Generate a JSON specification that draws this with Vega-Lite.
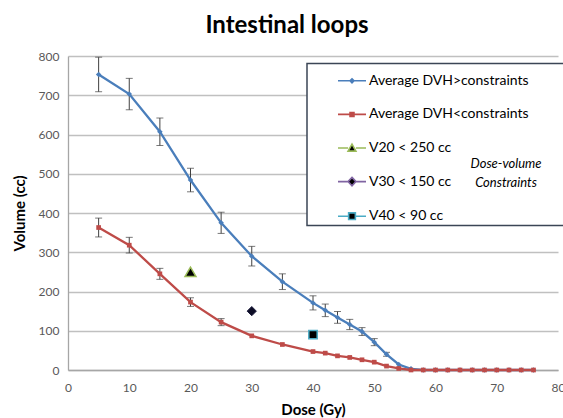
{
  "$schema": "https://vega.github.io/schema/vega-lite/v6.json",
  "width": 490,
  "height": 314,
  "autosize": {"type": "none"},
  "padding": {"left": 68, "top": 56, "right": 5, "bottom": 48},
  "background": "white",
  "config": {"font": "Lato", "view": {"stroke": null}},
  "title": {"text": "Intestinal loops", "fontSize": 24, "fontWeight": "bold", "font": "Lato", "color": "black", "anchor": "middle", "dx": -26, "baseline": "alphabetic", "offset": 21, "dy": 28},
  "datasets": {
    "dvh": [
      {"s": "Average DVH>constraints", "dose": 5, "v": 753, "err": 44},
      {"s": "Average DVH>constraints", "dose": 10, "v": 703, "err": 40},
      {"s": "Average DVH>constraints", "dose": 15, "v": 607, "err": 35},
      {"s": "Average DVH>constraints", "dose": 20, "v": 484, "err": 30},
      {"s": "Average DVH>constraints", "dose": 25, "v": 375, "err": 27},
      {"s": "Average DVH>constraints", "dose": 30, "v": 290, "err": 25},
      {"s": "Average DVH>constraints", "dose": 35, "v": 225, "err": 20},
      {"s": "Average DVH>constraints", "dose": 40, "v": 171, "err": 18},
      {"s": "Average DVH>constraints", "dose": 42, "v": 152, "err": 16},
      {"s": "Average DVH>constraints", "dose": 44, "v": 134, "err": 15},
      {"s": "Average DVH>constraints", "dose": 46, "v": 116, "err": 13},
      {"s": "Average DVH>constraints", "dose": 48, "v": 98, "err": 10},
      {"s": "Average DVH>constraints", "dose": 50, "v": 71, "err": 9},
      {"s": "Average DVH>constraints", "dose": 52, "v": 40, "err": 5},
      {"s": "Average DVH>constraints", "dose": 54, "v": 14, "err": null},
      {"s": "Average DVH>constraints", "dose": 56, "v": 3, "err": null},
      {"s": "Average DVH>constraints", "dose": 58, "v": 0, "err": null},
      {"s": "Average DVH>constraints", "dose": 60, "v": 0, "err": null},
      {"s": "Average DVH>constraints", "dose": 62, "v": 0, "err": null},
      {"s": "Average DVH>constraints", "dose": 64, "v": 0, "err": null},
      {"s": "Average DVH>constraints", "dose": 66, "v": 0, "err": null},
      {"s": "Average DVH>constraints", "dose": 68, "v": 0, "err": null},
      {"s": "Average DVH>constraints", "dose": 70, "v": 0, "err": null},
      {"s": "Average DVH>constraints", "dose": 72, "v": 0, "err": null},
      {"s": "Average DVH>constraints", "dose": 74, "v": 0, "err": null},
      {"s": "Average DVH>constraints", "dose": 76, "v": 0, "err": null},
      {"s": "Average DVH<constraints", "dose": 5, "v": 363, "err": 24},
      {"s": "Average DVH<constraints", "dose": 10, "v": 318, "err": 20},
      {"s": "Average DVH<constraints", "dose": 15, "v": 245, "err": 14},
      {"s": "Average DVH<constraints", "dose": 20, "v": 173, "err": 11},
      {"s": "Average DVH<constraints", "dose": 25, "v": 122, "err": 9},
      {"s": "Average DVH<constraints", "dose": 30, "v": 87, "err": null},
      {"s": "Average DVH<constraints", "dose": 35, "v": 65, "err": null},
      {"s": "Average DVH<constraints", "dose": 40, "v": 47, "err": null},
      {"s": "Average DVH<constraints", "dose": 42, "v": 43, "err": null},
      {"s": "Average DVH<constraints", "dose": 44, "v": 36, "err": null},
      {"s": "Average DVH<constraints", "dose": 46, "v": 32, "err": null},
      {"s": "Average DVH<constraints", "dose": 48, "v": 26, "err": null},
      {"s": "Average DVH<constraints", "dose": 50, "v": 20, "err": null},
      {"s": "Average DVH<constraints", "dose": 52, "v": 10, "err": null},
      {"s": "Average DVH<constraints", "dose": 54, "v": 4, "err": null},
      {"s": "Average DVH<constraints", "dose": 56, "v": 0, "err": null},
      {"s": "Average DVH<constraints", "dose": 58, "v": 0, "err": null},
      {"s": "Average DVH<constraints", "dose": 60, "v": 0, "err": null},
      {"s": "Average DVH<constraints", "dose": 62, "v": 0, "err": null},
      {"s": "Average DVH<constraints", "dose": 64, "v": 0, "err": null},
      {"s": "Average DVH<constraints", "dose": 66, "v": 0, "err": null},
      {"s": "Average DVH<constraints", "dose": 68, "v": 0, "err": null},
      {"s": "Average DVH<constraints", "dose": 70, "v": 0, "err": null},
      {"s": "Average DVH<constraints", "dose": 72, "v": 0, "err": null},
      {"s": "Average DVH<constraints", "dose": 74, "v": 0, "err": null},
      {"s": "Average DVH<constraints", "dose": 76, "v": 0, "err": null}
    ],
    "con": [
      {"c": "V20 < 250 cc", "dose": 20, "v": 250},
      {"c": "V30 < 150 cc", "dose": 30, "v": 150},
      {"c": "V40 < 90 cc", "dose": 40, "v": 90}
    ],
    "leg": [
      {"lg": "Average DVH>constraints"},
      {"lg": "Average DVH<constraints"},
      {"lg": "V20 < 250 cc"},
      {"lg": "V30 < 150 cc"},
      {"lg": "V40 < 90 cc"}
    ],
    "note": [
      {"n": "Dose-volume"},
      {"n": "Constraints"}
    ]
  },
  "encoding": {
    "x": {
      "field": "dose", "type": "quantitative",
      "scale": {"domain": [0, 80], "nice": false, "zero": false},
      "axis": {
        "title": "Dose (Gy)", "values": [0, 10, 20, 30, 40, 50, 60, 70, 80],
        "grid": false, "ticks": false, "domain": true, "domainColor": "#a6a6a6", "domainWidth": 1.3,
        "labelFont": "Lato", "labelFontSize": 12, "labelColor": "#595959", "labelPadding": 12, "labelFlush": false,
        "titleFont": "Lato", "titleFontSize": 15, "titleFontWeight": "bold", "titleColor": "black", "titlePadding": 9.5
      }
    },
    "y": {
      "field": "v", "type": "quantitative",
      "scale": {"domain": [0, 800], "nice": false},
      "axis": {
        "title": "Volume (cc)", "values": [0, 100, 200, 300, 400, 500, 600, 700, 800],
        "grid": true, "gridColor": "#c0c0c0", "gridWidth": 1.3,
        "ticks": false, "domain": true, "domainColor": "#a6a6a6", "domainWidth": 1.3,
        "labelFont": "Lato", "labelFontSize": 12, "labelColor": "#595959", "labelPadding": 9,
        "titleFont": "Lato", "titleFontSize": 15, "titleFontWeight": "bold", "titleColor": "black", "titlePadding": 11
      }
    }
  },
  "layer": [
    {
      "data": {"name": "dvh"},
      "transform": [{"filter": "isValid(datum.err) && datum.err > 0"}],
      "mark": {"type": "errorbar", "ticks": {"size": 7, "color": "#404040"}, "rule": {"color": "#404040"}, "thickness": 1},
      "encoding": {"yError": {"field": "err"}}
    },
    {
      "data": {"name": "dvh"},
      "mark": {"type": "line", "strokeWidth": 2.3},
      "encoding": {
        "color": {"field": "s", "type": "nominal", "scale": {"domain": ["Average DVH>constraints", "Average DVH<constraints"], "range": ["#4a7ebb", "#be4b48"]}, "legend": null},
        "detail": {"field": "s"}
      }
    },
    {
      "data": {"name": "dvh"},
      "transform": [{"filter": "datum.s == 'Average DVH>constraints'"}],
      "mark": {"type": "point", "shape": "diamond", "filled": true, "size": 30, "opacity": 1, "color": "#4a7ebb"},
      "encoding": {}
    },
    {
      "data": {"name": "dvh"},
      "transform": [{"filter": "datum.s == 'Average DVH<constraints'"}],
      "mark": {"type": "point", "shape": "square", "filled": true, "size": 22, "opacity": 1, "color": "#be4b48"},
      "encoding": {}
    },
    {
      "data": {"name": "con"},
      "transform": [{"filter": "datum.c == 'V20 < 250 cc'"}],
      "mark": {"type": "point", "shape": "triangle-up", "filled": true, "size": 120, "opacity": 1, "fill": "black", "stroke": "#9bbb59", "strokeWidth": 1.5},
      "encoding": {}
    },
    {
      "data": {"name": "con"},
      "transform": [{"filter": "datum.c == 'V30 < 150 cc'"}],
      "mark": {"type": "point", "shape": "diamond", "filled": true, "size": 85, "opacity": 1, "fill": "#0d0d26", "stroke": "#1f1f3f", "strokeWidth": 1},
      "encoding": {}
    },
    {
      "data": {"name": "con"},
      "transform": [{"filter": "datum.c == 'V40 < 90 cc'"}],
      "mark": {"type": "point", "shape": "square", "filled": true, "size": 70, "opacity": 1, "fill": "black", "stroke": "#4bacc6", "strokeWidth": 1.5},
      "encoding": {}
    },
    {
      "data": {"name": "leg"},
      "transform": [{"filter": "false"}],
      "mark": {"type": "point", "filled": true, "strokeWidth": 1.6, "opacity": 1},
      "encoding": {
        "shape": {
          "field": "lg", "type": "nominal",
          "scale": {
            "domain": ["Average DVH>constraints", "Average DVH<constraints", "V20 < 250 cc", "V30 < 150 cc", "V40 < 90 cc"],
            "range": [
              "M-1,0H1M0,-0.14L0.14,0L0,0.14L-0.14,0Z",
              "M-1,0H1M-0.14,-0.14H0.14V0.14H-0.14Z",
              "M-1,0H-0.28M0.28,0H1M0,-0.28L0.28,0.22L-0.28,0.22Z",
              "M-1,0H-0.28M0.28,0H1M0,-0.3L0.28,0L0,0.3L-0.28,0Z",
              "M-1,0H-0.24M0.24,0H1M-0.24,-0.24H0.24V0.24H-0.24Z"
            ]
          },
          "legend": {
            "orient": "none", "legendX": 239, "legendY": 7.5, "padding": 2.3,
            "fillColor": "white", "strokeColor": "#3b4656",
            "symbolSize": 784, "symbolOffset": 27.7, "symbolStrokeWidth": 1.6, "symbolOpacity": 1,
            "labelFont": "Lato", "labelFontSize": 14, "labelColor": "black", "labelOffset": 2, "labelLimit": 400,
            "rowPadding": 11.6, "title": " ", "titleOrient": "right", "titlePadding": 34, "titleFontSize": 12,
            "encode": {"legend": {"update": {"strokeWidth": {"value": 1.5}}}}
          }
        },
        "stroke": {
          "field": "lg", "type": "nominal",
          "scale": {
            "domain": ["Average DVH>constraints", "Average DVH<constraints", "V20 < 250 cc", "V30 < 150 cc", "V40 < 90 cc"],
            "range": ["#4a7ebb", "#be4b48", "#9bbb59", "#8064a2", "#4bacc6"]
          },
          "legend": {
            "orient": "none", "legendX": 239, "legendY": 7.5, "padding": 2.3,
            "fillColor": "white", "strokeColor": "#3b4656",
            "symbolSize": 784, "symbolOffset": 27.7, "symbolStrokeWidth": 1.6, "symbolOpacity": 1,
            "labelFont": "Lato", "labelFontSize": 14, "labelColor": "black", "labelOffset": 2, "labelLimit": 400,
            "rowPadding": 11.6, "title": " ", "titleOrient": "right", "titlePadding": 34, "titleFontSize": 12,
            "encode": {"legend": {"update": {"strokeWidth": {"value": 1.5}}}}
          }
        },
        "fill": {
          "field": "lg", "type": "nominal",
          "scale": {
            "domain": ["Average DVH>constraints", "Average DVH<constraints", "V20 < 250 cc", "V30 < 150 cc", "V40 < 90 cc"],
            "range": ["#4a7ebb", "#be4b48", "black", "black", "black"]
          },
          "legend": {
            "orient": "none", "legendX": 239, "legendY": 7.5, "padding": 2.3,
            "fillColor": "white", "strokeColor": "#3b4656",
            "symbolSize": 784, "symbolOffset": 27.7, "symbolStrokeWidth": 1.6, "symbolOpacity": 1,
            "labelFont": "Lato", "labelFontSize": 14, "labelColor": "black", "labelOffset": 2, "labelLimit": 400,
            "rowPadding": 11.6, "title": " ", "titleOrient": "right", "titlePadding": 34, "titleFontSize": 12,
            "encode": {"legend": {"update": {"strokeWidth": {"value": 1.5}}}}
          }
        }
      }
    },
    {
      "data": {"name": "note"},
      "transform": [{"filter": "false"}],
      "mark": {"type": "line"},
      "encoding": {
        "strokeDash": {
          "field": "n", "type": "nominal",
          "scale": {"domain": ["Dose-volume", "Constraints"]},
          "legend": {
            "orient": "none", "legendX": 425, "legendY": 101.5, "padding": 0, "zindex": 1,
            "title": null, "symbolOpacity": 0, "symbolSize": 0, "symbolStrokeWidth": 0, "labelOffset": 0,
            "labelFont": "Lato", "labelFontSize": 13, "labelFontStyle": "italic", "labelColor": "black", "labelAlign": "center",
            "rowPadding": 4.5
          }
        }
      }
    }
  ]
}
